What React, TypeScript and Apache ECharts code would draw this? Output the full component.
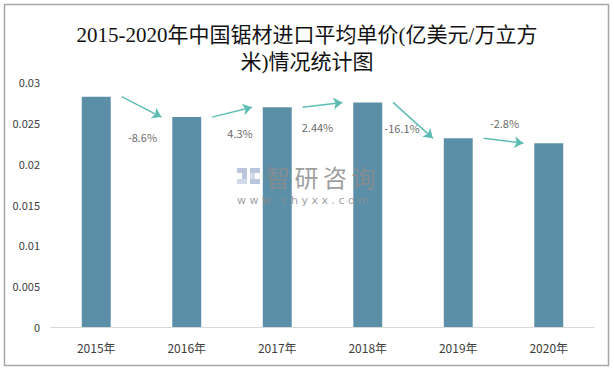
import React, { useEffect, useRef } from "react";
import * as echarts from "echarts";

const categories = ["2015年", "2016年", "2017年", "2018年", "2019年", "2020年"];
const prices = [0.0282, 0.0257, 0.0269, 0.0275, 0.0231, 0.0225];
const growthLabels = ["-8.6%", "4.3%", "2.44%", "-16.1%", "-2.8%"];
const yTicks = { min: 0, max: 0.03, interval: 0.005 };
const watermarkChars = ["智", "研", "咨", "询"];

// label pixel offsets relative to arrow midpoints (style only)
const labelOffsets: [number, number][] = [
  [1, 30],
  [8, 21],
  [-5, 22],
  [-11, 8],
  [1, -18],
];

export default function App() {
  const ref = useRef<HTMLDivElement>(null);
  useEffect(() => {
    if (!ref.current) return;
    const chart = echarts.init(ref.current, null, { renderer: "svg" });
    const arrowColor = "#5dbdb4";
    const arrows = growthLabels.map((_, i) => ({
      coords: [
        [i + 0.28, prices[i]],
        [i + 0.72, prices[i + 1]],
      ],
    }));
    const labelPts = growthLabels.map((g, i) => ({
      value: [i + 0.5, (prices[i] + prices[i + 1]) / 2],
      label: { formatter: g, offset: labelOffsets[i] },
    }));
    const textColor = "#404040";
    const wmFill = "rgba(140,140,140,0.85)";
    const iconA = "rgba(170,182,212,0.8)";
    const iconB = "rgba(200,210,230,0.8)";
    chart.setOption({
      animation: false,
      title: {
        text: "2015-2020年中国锯材进口平均单价(亿美元/万立方\n米)情况统计图",
        left: "center",
        top: 16,
        textStyle: {
          fontFamily: "'Liberation Serif', 'Noto Sans CJK SC', serif",
          fontSize: 21,
          fontWeight: "normal",
          lineHeight: 27,
          color: "#111",
        },
      },
      grid: { left: 51, right: 20, top: 82, bottom: 42 },
      xAxis: [
        {
          type: "category",
          data: categories,
          axisLine: { lineStyle: { color: "#d9d9d9" } },
          axisTick: { show: false },
          axisLabel: {
            color: textColor,
            fontSize: 12,
            fontFamily: "'Noto Sans CJK SC', sans-serif",
            margin: 14,
          },
        },
        { type: "value", min: -0.5, max: 5.5, show: false },
      ],
      yAxis: {
        type: "value",
        min: yTicks.min,
        max: yTicks.max,
        interval: yTicks.interval,
        axisLine: { show: false },
        axisTick: { show: false },
        splitLine: { show: false },
        axisLabel: {
          color: textColor,
          fontSize: 11,
          fontFamily: "'Noto Sans CJK SC', sans-serif",
          margin: 11,
        },
      },
      series: [
        {
          type: "bar",
          data: prices,
          barWidth: "32%",
          itemStyle: { color: "#5b8fa7" },
        },
        {
          type: "lines",
          coordinateSystem: "cartesian2d",
          xAxisIndex: 1,
          yAxisIndex: 0,
          symbol: ["none", "arrow"],
          symbolSize: [0, 9],
          lineStyle: { color: arrowColor, width: 1.5, opacity: 1 },
          data: arrows,
          z: 5,
        },
        {
          type: "scatter",
          xAxisIndex: 1,
          yAxisIndex: 0,
          symbolSize: 0,
          data: labelPts,
          label: {
            show: true,
            position: "inside",
            color: textColor,
            fontSize: 11,
            fontFamily: "'Noto Sans CJK SC', sans-serif",
          },
          z: 6,
        },
      ],
      graphic: [
        {
          type: "rect",
          shape: { x: 4.5, y: 4.5, width: 604, height: 361 },
          style: { fill: "none", stroke: "#a6a6a6", lineWidth: 1.5 },
          silent: true,
        },
        {
          type: "group",
          left: 237,
          top: 164,
          silent: true,
          z: 100,
          zlevel: 1,
          children: [
            { type: "rect", z: 100, shape: { x: 0, y: 2, width: 10, height: 5 }, style: { fill: iconA } },
            { type: "rect", z: 100, shape: { x: 5, y: 7, width: 5, height: 6 }, style: { fill: iconA } },
            { type: "rect", z: 100, shape: { x: 0, y: 13, width: 10, height: 5 }, style: { fill: iconB } },
            { type: "rect", z: 100, shape: { x: 13, y: 2, width: 10, height: 5 }, style: { fill: iconA } },
            { type: "rect", z: 100, shape: { x: 13, y: 7, width: 5, height: 6 }, style: { fill: iconB } },
            { type: "rect", z: 100, shape: { x: 13, y: 13, width: 10, height: 5 }, style: { fill: iconA } },
            ...watermarkChars.map((c, i) => ({
              type: "text",
              z: 100,
              x: 29 + i * 28.5,
              y: -2,
              style: {
                text: c,
                fontSize: 24,
                fontFamily: "'Noto Sans CJK SC', sans-serif",
                fill: wmFill,
              },
            })),
            {
              type: "text",
              z: 100,
              x: 0,
              y: 29,
              style: {
                text: "w w w . c h y x x . c o m",
                fontSize: 11,
                fontFamily: "'DejaVu Sans', sans-serif",
                fill: wmFill,
              },
            },
          ],
        },
      ],
    });
    return () => chart.dispose();
  }, []);
  return (
    <div
      ref={ref}
      style={{ position: "fixed", left: 0, top: 0, width: 614, height: 369, background: "#fff" }}
    />
  );
}
